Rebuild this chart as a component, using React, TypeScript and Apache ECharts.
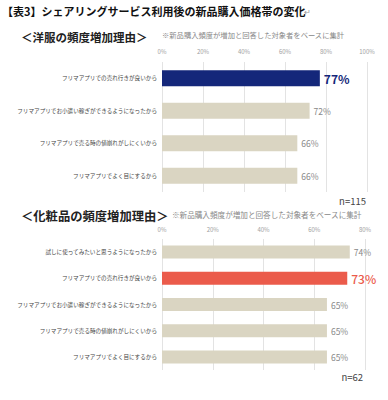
import React, { useEffect, useRef } from "react";
import * as echarts from "echarts";

const pageTitle = "【表3】シェアリングサービス利用後の新品購入価格帯の変化";
const note = "※新品購入頻度が増加と回答した対象者をベースに集計";

const clothesTitle = "＜洋服の頻度増加理由＞";
const clothesCats = [
  "フリマアプリでの売れ行きが良いから",
  "フリマアプリでお小遣い稼ぎができるようになったから",
  "フリマアプリで売る時の値崩れがしにくいから",
  "フリマアプリでよく目にするから",
];
const clothesVals = [77, 72, 66, 66];
const clothesHighlight = 0;
const clothesN = "n=115";

const cosmeTitle = "＜化粧品の頻度増加理由＞";
const cosmeCats = [
  "試しに使ってみたいと思うようになったから",
  "フリマアプリでの売れ行きが良いから",
  "フリマアプリでお小遣い稼ぎができるようになったから",
  "フリマアプリで売る時の値崩れがしにくいから",
  "フリマアプリでよく目にするから",
];
const cosmeVals = [74, 73, 65, 65, 65];
const cosmeHighlight = 1;
const cosmeN = "n=62";

const FONT = "'Noto Sans CJK JP', sans-serif";
const BEIGE = "#dad5c2";
const NAVY = "#14277a";
const RED = "#eb5b4b";

function makeData(vals: number[], hi: number, hiColor: string) {
  return vals.map((v, i) =>
    i === hi
      ? {
          value: v,
          itemStyle: { color: hiColor },
          label: { color: hiColor, fontSize: 12, fontWeight: hiColor === NAVY ? "bold" : 500 },
        }
      : { value: v }
  );
}

export default function App() {
  const ref = useRef<HTMLDivElement>(null);
  useEffect(() => {
    if (!ref.current) return;
    const chart = echarts.init(ref.current, null, { renderer: "svg" });
    const catAxis = (gi: number, cats: string[]) => ({
      type: "category",
      gridIndex: gi,
      data: cats,
      inverse: true,
      axisLine: { show: false },
      axisTick: { show: false },
      axisLabel: { fontSize: 5.6, color: "#444", margin: 5, fontFamily: FONT },
    });
    const valAxis = (gi: number, max: number, margin: number) => ({
      type: "value",
      gridIndex: gi,
      position: "top",
      min: 0,
      max,
      interval: 20,
      axisLine: { show: false },
      axisTick: { show: false },
      splitLine: { show: true, lineStyle: { color: "#e3e3e3", width: 1 } },
      axisLabel: { fontSize: 6, color: "#a0a0a0", margin, formatter: "{value}%", fontFamily: FONT },
    });
    const valueLabel = {
      show: true,
      position: "right",
      distance: 4,
      formatter: "{c}%",
      fontSize: 8.5,
      color: "#888",
      fontFamily: FONT,
    };
    chart.setOption({
      animation: false,
      textStyle: { fontFamily: FONT },
      grid: [
        { left: 162, width: 205, top: 62, height: 130 },
        { left: 162, width: 203, top: 239, height: 131 },
      ],
      xAxis: [valAxis(0, 100, 8), valAxis(1, 80, 7)],
      yAxis: [catAxis(0, clothesCats), catAxis(1, cosmeCats)],
      series: [
        {
          type: "bar",
          xAxisIndex: 0,
          yAxisIndex: 0,
          barWidth: 16,
          itemStyle: { color: BEIGE },
          label: valueLabel,
          data: makeData(clothesVals, clothesHighlight, NAVY),
        },
        {
          type: "bar",
          xAxisIndex: 1,
          yAxisIndex: 1,
          barWidth: 13,
          itemStyle: { color: BEIGE },
          label: valueLabel,
          data: makeData(cosmeVals, cosmeHighlight, RED),
        },
      ],
      graphic: [
        {
          type: "text",
          left: 2,
          top: 5,
          style: { text: pageTitle, fontSize: 11, fontWeight: "bold", fill: "#111", fontFamily: FONT },
        },
        {
          type: "text",
          left: 304,
          top: 7,
          style: { text: "↵", fontSize: 8, fill: "#999", fontFamily: FONT },
        },
        {
          type: "text",
          left: 21,
          top: 31,
          style: { text: clothesTitle, fontSize: 11.5, fontWeight: "bold", fill: "#222", fontFamily: FONT },
        },
        {
          type: "text",
          left: 162,
          top: 31,
          style: { text: note, fontSize: 7.3, fill: "#888", fontFamily: FONT },
        },
        {
          type: "text",
          right: 22,
          top: 196,
          style: { text: clothesN, fontSize: 9.5, fill: "#444", fontFamily: FONT },
        },
        {
          type: "text",
          left: 21,
          top: 210,
          style: { text: cosmeTitle, fontSize: 12.3, fontWeight: "bold", fill: "#222", fontFamily: FONT },
        },
        {
          type: "text",
          left: 172,
          top: 211,
          style: { text: note, fontSize: 7.6, fill: "#888", fontFamily: FONT },
        },
        {
          type: "text",
          right: 25,
          top: 372,
          style: { text: cosmeN, fontSize: 9.5, fill: "#444", fontFamily: FONT },
        },
      ],
    });
    return () => chart.dispose();
  }, []);
  return (
    <div
      ref={ref}
      style={{ position: "fixed", left: 0, top: 0, width: 388, height: 400, background: "#fff" }}
    />
  );
}
